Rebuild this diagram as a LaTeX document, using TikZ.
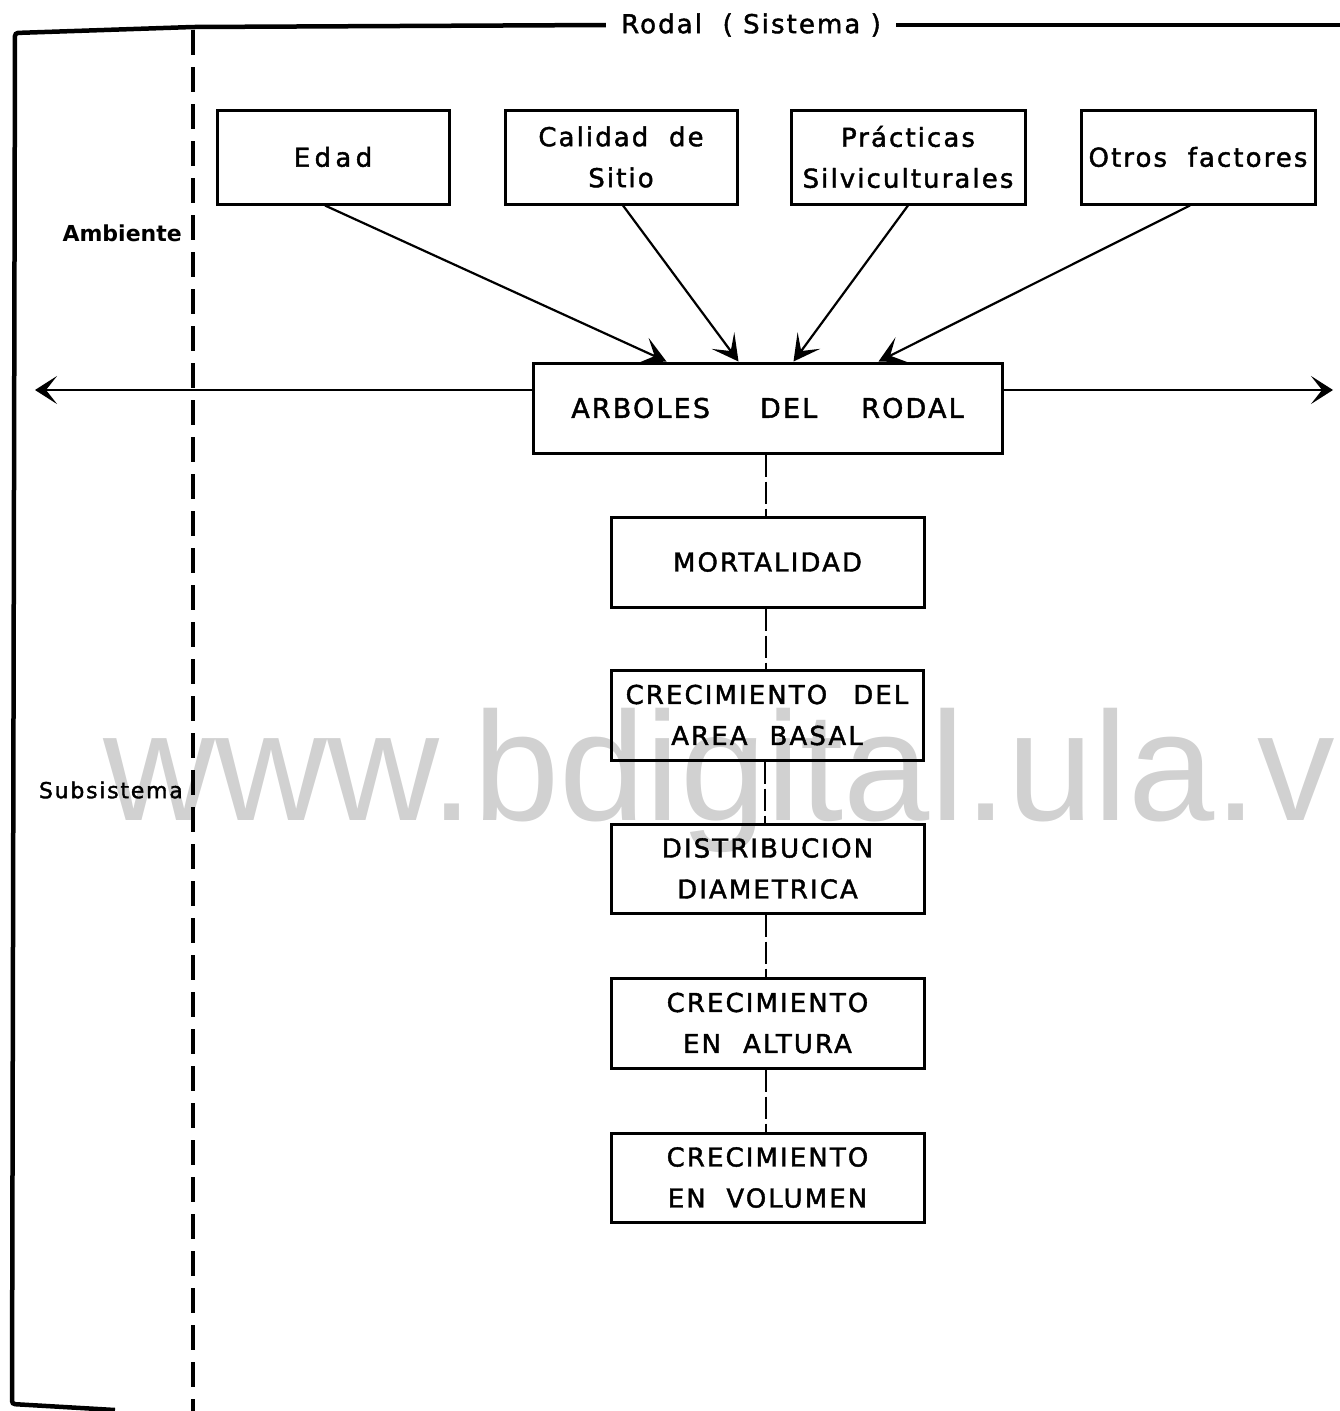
\documentclass[tikz,border=0pt]{standalone}
\usepackage{fontspec}
\setmainfont{DejaVu Sans}
\newfontfamily\lettering[LetterSpace=8,FakeBold=1.6]{DejaVu Sans}
\newfontfamily\wmfont{Liberation Sans}
\usetikzlibrary{arrows.meta,calc}
\begin{document}
\begin{tikzpicture}[x=1pt,y=-1pt,
  box/.style={draw, line width=3pt, inner sep=0pt, align=center,
    font=\lettering\fontsize{26}{41}\selectfont},
  inarrow/.style={line width=2.2pt, -{Stealth[length=26pt,width=28pt,inset=13pt]}},
  hline/.style={line width=2.5pt, -{Stealth[length=22pt,width=28pt,inset=11pt]}},
  dconn/.style={line width=2pt, dash pattern=on 22pt off 5pt},
  sepline/.style={line width=4pt, dash pattern=on 25pt off 12pt},
  bracket/.style={line width=4.5pt, rounded corners=3pt},
  topline/.style={line width=3.5pt},
  sidelabel/.style={inner sep=0pt, anchor=east}
]
\useasboundingbox (0,0) rectangle (1340,1411);
% watermark
\begin{scope}
\clip (0,0) rectangle (1340,1411);
\node[anchor=base west, inner sep=0pt, text=black!18, font=\wmfont\fontsize{155}{160}\selectfont] (wm) at (103,820) {www.bdigital.ula.ve};
\end{scope}

% title and frame
\node[inner xsep=15pt, inner ysep=0pt, font=\lettering\fontsize{26}{30}\selectfont] (title) at (751,25) {Rodal \ ( Sistema )};
\coordinate (bl) at (115,1410);
\coordinate (tr) at (1340,25);
\draw[bracket] (bl) -- (12,1404) -- (15,33) -- (193,27) -- (title.west);
\draw[topline] (title.east) -- (tr);
\coordinate (septop) at (193,30);
\coordinate (sepbot) at (193,1411);
\draw[sepline] (septop) -- (sepbot);

\node[sidelabel, font=\bfseries\fontsize{22}{26}\selectfont] (amb) at (182,233) {Ambiente};
\node[sidelabel, font=\lettering\fontsize{22}{26}\selectfont] (sub) at (183,790) {Subsistema};

% top boxes
\node[box, minimum width=232pt, minimum height=94pt] (edad) at (333,157) {E\,d\,a\,d};
\node[box, minimum width=232pt, minimum height=94pt] (cal) at (621,157) {Calidad \ de\\Sitio};
\node[box, minimum width=234pt, minimum height=94pt] (prac) at (908,157) {Prácticas\\Silviculturales};
\node[box, minimum width=234pt, minimum height=94pt] (otros) at (1198,157) {Otros \ factores};

% central box
\node[box, minimum width=469pt, minimum height=90pt, font=\lettering\fontsize{27}{41}\selectfont] (arb) at (767.5,408) {ARBOLES\hspace{50pt}DEL\hspace{44pt}RODAL};

\draw[inarrow] ([xshift=-8pt]edad.south) -- ([xshift=135pt]arb.north west);
\draw[inarrow] ([xshift=2pt]cal.south) -- ([xshift=207pt]arb.north west);
\draw[inarrow] ([xshift=0pt]prac.south) -- ([xshift=262pt]arb.north west);
\draw[inarrow] ([xshift=-8pt]otros.south) -- ([xshift=347pt]arb.north west);

\coordinate (lt) at (35,390);
\coordinate (rt) at (1333,390);
\draw[hline] (arb.west |- lt) -- (lt);
\draw[hline] (arb.east |- rt) -- (rt);

% column of boxes
\node[box, minimum width=313pt, minimum height=90pt] (mort) at (767.5,562) {MORTALIDAD};
\node[box, minimum width=312pt, minimum height=90pt] (cab) at (767,715) {CRECIMIENTO\hspace{26pt}DEL\\AREA\hspace{22pt}BASAL\hspace{14pt}};
\node[box, minimum width=313pt, minimum height=89pt] (dist) at (767.5,868.5) {DISTRIBUCION\\DIAMETRICA};
\node[box, minimum width=313pt, minimum height=90pt] (alt) at (767.5,1023) {CRECIMIENTO\\EN\hspace{22pt}ALTURA};
\node[box, minimum width=313pt, minimum height=89pt] (vol) at (767.5,1177.5) {CRECIMIENTO\\EN \ VOLUMEN};

\draw[dconn] ([xshift=-2pt]arb.south) -- ([xshift=-2pt]arb.south |- mort.north);
\draw[dconn] ([xshift=-2pt]mort.south) -- ([xshift=-2pt]mort.south |- cab.north);
\draw[dconn] ([xshift=-2pt]cab.south) -- ([xshift=-2pt]cab.south |- dist.north);
\draw[dconn] ([xshift=-2pt]dist.south) -- ([xshift=-2pt]dist.south |- alt.north);
\draw[dconn] ([xshift=-2pt]alt.south) -- ([xshift=-2pt]alt.south |- vol.north);
\end{tikzpicture}
\end{document}
